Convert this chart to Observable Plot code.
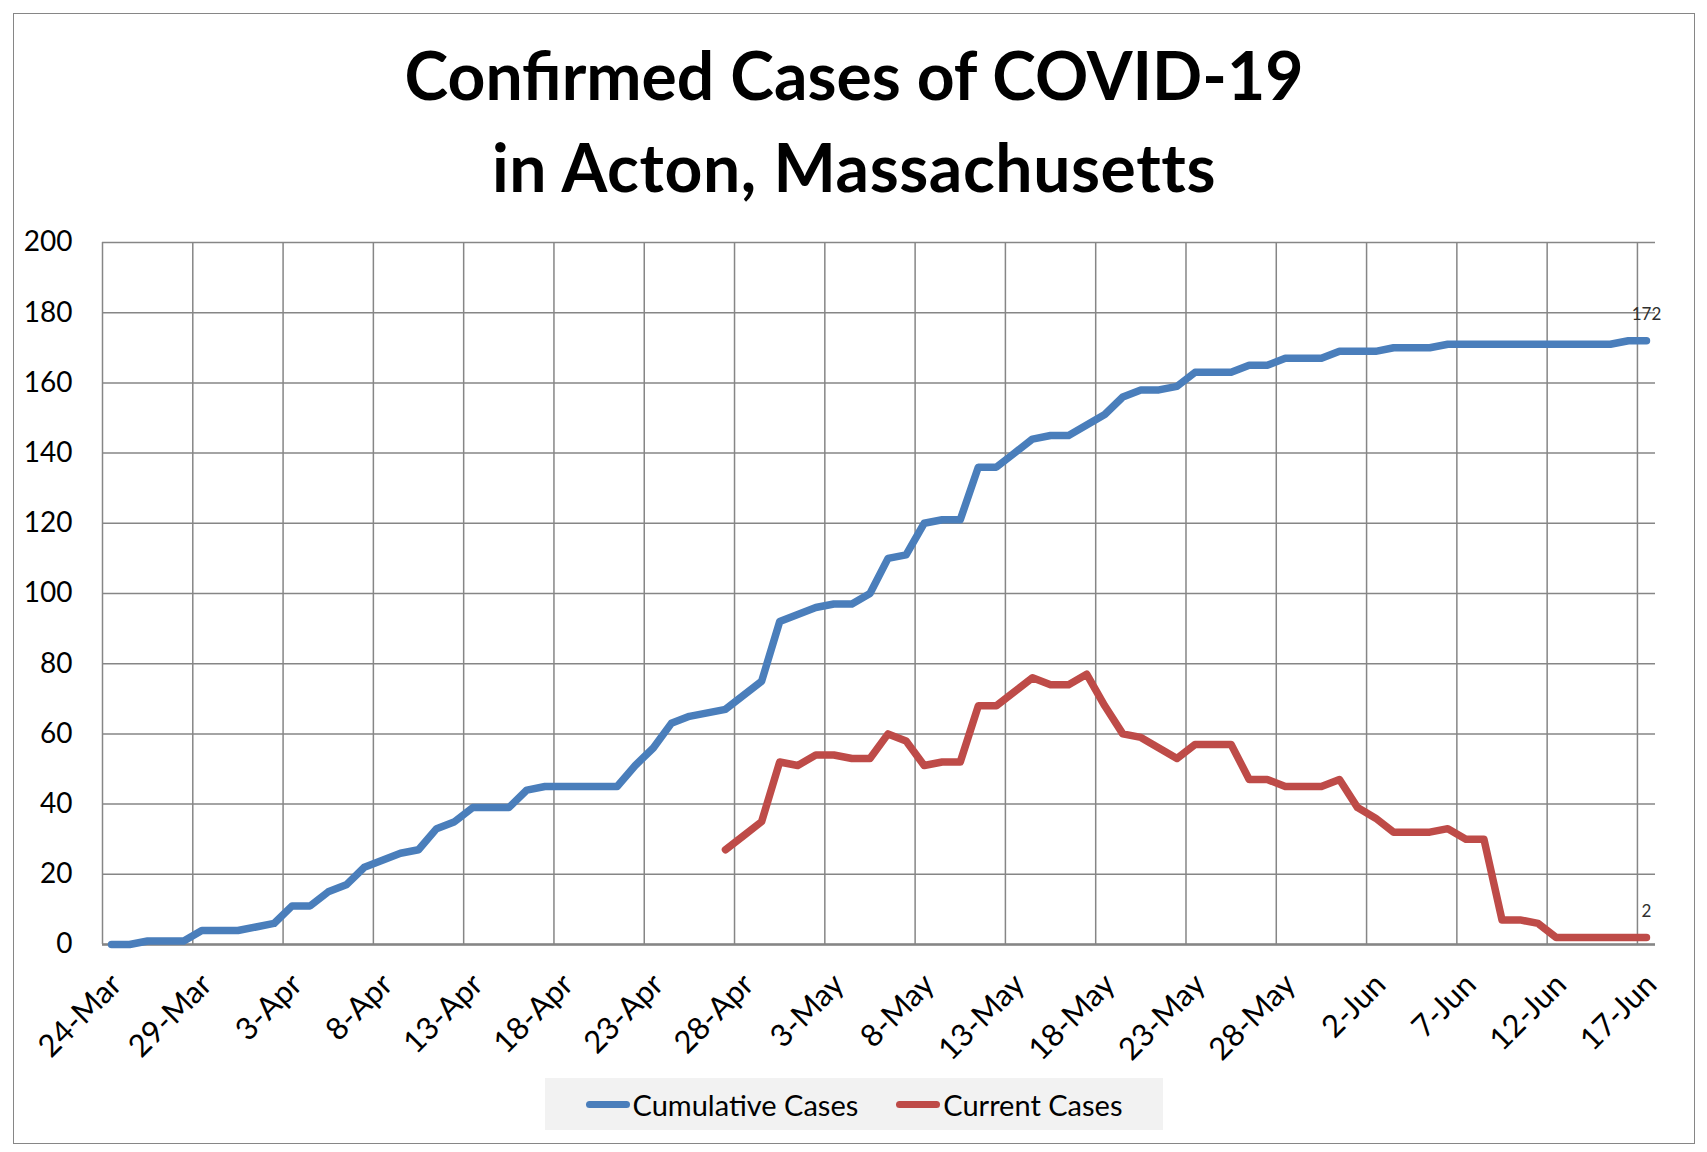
<!DOCTYPE html>
<html><head><meta charset="utf-8">
<script src="https://cdn.jsdelivr.net/npm/d3@7"></script>
<script src="https://cdn.jsdelivr.net/npm/@observablehq/plot@0.6"></script>
<style>
html,body{margin:0;padding:0;background:#fff;}
#frame{position:absolute;left:13px;top:13px;width:1682px;height:1131px;border:1px solid #868686;box-sizing:border-box;background:#fff;font-family:Lato,sans-serif;}
#title{margin:0;padding-top:15px;height:170px;text-align:center;font-weight:700;font-size:66px;line-height:92px;color:#000;}
#title .l2{letter-spacing:0.6px;}
#chart svg{display:block;overflow:visible;}
#legend{margin:0 auto;width:618px;height:52px;background:#f2f2f2;display:flex;align-items:center;justify-content:center;gap:38px;font-size:29px;color:#000;}
.item{display:flex;align-items:center;}
.sw{display:inline-block;width:44px;height:7px;border-radius:3.5px;margin-right:3px;}
</style></head>
<body>
<div id="frame">
  <div id="title">Confirmed Cases of COVID-19<br><span class="l2">in Acton, Massachusetts</span></div>
  <div id="chart"></div>
  <div id="legend"></div>
</div>
<script>
// ---- data ----
const seriesNames = ["Cumulative Cases", "Current Cases"];
const seriesColors = ["#4A7EBB", "#BE4B48"];
const cumulativeStart = "2020-03-24";
const cumulativeCases = [0,0,1,1,1,4,4,4,5,6,
  11,11,15,17,22,24,26,27,33,35,
  39,39,39,44,45,45,45,45,45,51,
  56,63,65,66,67,71,75,92,94,96,
  97,97,100,110,111,120,121,121,136,136,
  140,144,145,145,148,151,156,158,158,159,
  163,163,163,165,165,167,167,167,169,169,
  169,170,170,170,171,171,171,171,171,171,
  171,171,171,171,172,172];
const currentStart = "2020-04-27";
const currentCases = [27,31,35,52,51,54,54,53,53,60,
  58,51,52,52,68,68,72,76,74,74,
  77,68,60,59,56,53,57,57,57,47,
  47,45,45,45,47,39,36,32,32,32,
  33,30,30,7,7,6,2,2,2,2,2,2];
const xTickLabels = ["24-Mar","29-Mar","3-Apr","8-Apr","13-Apr","18-Apr","23-Apr","28-Apr","3-May","8-May","13-May","18-May","23-May","28-May","2-Jun","7-Jun","12-Jun","17-Jun"];
const yTicks = [0,20,40,60,80,100,120,140,160,180,200];
const xDomain = ["2020-03-24", "2020-06-18"];

// ---- build ----
const DAY = 86400000;
const parse = s => new Date(s + "T00:00:00Z");
function series(start, values, name) {
  const t0 = parse(start).getTime();
  return values.map((v, i) => ({date: new Date(t0 + i * DAY + DAY / 2), value: v, series: name}));
}
const cum = series(cumulativeStart, cumulativeCases, seriesNames[0]);
const cur = series(currentStart, currentCases, seriesNames[1]);
const t0 = parse(xDomain[0]).getTime();
const tickDates = xTickLabels.map((_, i) => new Date(t0 + i * 5 * DAY));
const labelFor = d => xTickLabels[Math.round((d.getTime() - t0) / (5 * DAY))];

const gridColor = "#868686";
const chart = Plot.plot({
  width: 1680,
  height: 879,
  marginTop: 43,
  marginBottom: 134,
  marginLeft: 88,
  marginRight: 39,
  style: {fontFamily: "Lato, sans-serif", fontSize: "28px", color: "#000", background: "transparent"},
  x: {type: "utc", domain: xDomain.map(parse)},
  y: {domain: [0, 200]},
  marks: [
    Plot.gridX(tickDates, {stroke: gridColor, strokeOpacity: 1, strokeWidth: 1.5}),
    Plot.gridY(yTicks, {stroke: gridColor, strokeOpacity: 1, strokeWidth: 1.5}),
    Plot.ruleY([0], {stroke: gridColor, strokeWidth: 2.5}),
    Plot.axisY(yTicks, {tickSize: 0, tickPadding: 30, label: null, fontSize: 28, fill: "#000"}),
    Plot.axisX(tickDates, {tickSize: 0, tickPadding: 18, tickRotate: -45, tickFormat: labelFor, label: null, fontSize: 31, fill: "#000", dx: 14, dy: 17}),
    Plot.line(cum, {x: "date", y: "value", stroke: seriesColors[0], strokeWidth: 7.5, strokeLinecap: "round", strokeLinejoin: "round"}),
    Plot.line(cur, {x: "date", y: "value", stroke: seriesColors[1], strokeWidth: 7.5, strokeLinecap: "round", strokeLinejoin: "round"}),
    Plot.text([cum[cum.length - 1], cur[cur.length - 1]], {x: "date", y: "value", text: d => String(d.value), dy: -26, fontSize: 17, fill: "#303030"})
  ]
});
document.getElementById("chart").appendChild(chart);

const legend = document.getElementById("legend");
seriesNames.forEach((name, i) => {
  const it = document.createElement("div");
  it.className = "item";
  const sw = document.createElement("span");
  sw.className = "sw";
  sw.style.background = seriesColors[i];
  const tx = document.createElement("span");
  tx.textContent = name;
  it.appendChild(sw); it.appendChild(tx);
  legend.appendChild(it);
});
</script>
</body></html>
